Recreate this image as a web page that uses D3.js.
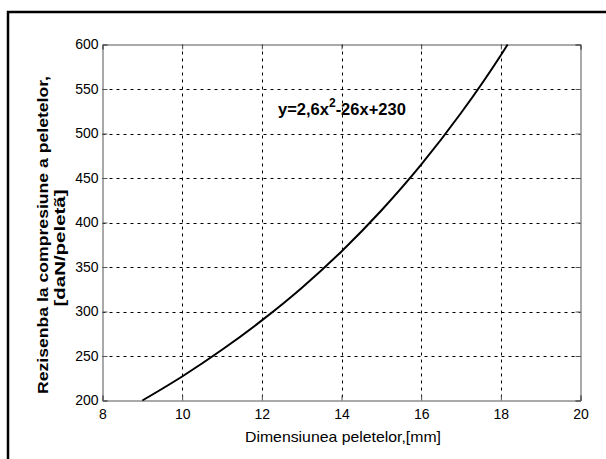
<!DOCTYPE html>
<html><head><meta charset="utf-8">
<script src="https://cdn.jsdelivr.net/npm/d3@7"></script>
<style>body{margin:0;background:#fff}svg{display:block}text{font-family:"Liberation Sans",Arial,sans-serif}</style>
</head><body><svg id="c" width="606" height="459"></svg>
<script>
const xTicks = [8, 10, 12, 14, 16, 18, 20];
const yTicks = [200, 250, 300, 350, 400, 450, 500, 550, 600];
const xVals = [9, 10, 11, 12, 13, 14, 15, 16, 17, 18, 18.17];
const yVals = [200, 227, 257, 290, 326.5, 367.5, 413.5, 465, 523, 588, 600];
const yLabel1 = "Rezisenba la compresiune a peletelor,";
const yLabel2 = "[daN/peletã]";
const xLabel = "Dimensiunea peletelor,[mm]";

const svg = d3.select("#c");
const L = 102.5, R = 580.5, T = 44.5, B = 400.5;
const x = d3.scaleLinear().domain([8, 20]).range([L, R]);
const y = d3.scaleLinear().domain([200, 600]).range([B, T]);

svg.append("rect").attr("x", 8).attr("y", 12).attr("width", 620).attr("height", 470)
  .attr("fill", "none").attr("stroke", "#000").attr("stroke-width", 2.5);

const g = svg.append("g");
g.selectAll(".gx").data(xTicks.slice(1, -1)).join("line")
  .attr("x1", d => Math.round(x(d)) + 0.5).attr("x2", d => Math.round(x(d)) + 0.5)
  .attr("y1", T).attr("y2", B)
  .attr("stroke", "#000").attr("stroke-dasharray", "3,4").attr("stroke-width", 1);
g.selectAll(".gy").data(yTicks.slice(1, -1)).join("line")
  .attr("y1", d => Math.round(y(d)) + 0.5).attr("y2", d => Math.round(y(d)) + 0.5)
  .attr("x1", L).attr("x2", R)
  .attr("stroke", "#000").attr("stroke-dasharray", "3,4").attr("stroke-width", 1);

const ax = d3.axisBottom(x).tickValues(xTicks).tickSize(-5).tickPadding(9);
const ay = d3.axisLeft(y).tickValues(yTicks).tickSize(-5).tickPadding(4);
svg.append("g").attr("transform", `translate(0,${B})`).call(ax);
svg.append("g").attr("transform", `translate(${L},0)`).call(ay);
svg.append("g").attr("transform", `translate(0,${T})`).call(d3.axisTop(x).tickValues(xTicks).tickSize(-5).tickFormat(""));
svg.append("g").attr("transform", `translate(${R},0)`).call(d3.axisRight(y).tickValues(yTicks).tickSize(-5).tickFormat(""));
svg.selectAll(".domain").attr("stroke", "#555");
svg.selectAll(".tick line").attr("stroke", "#555");
svg.selectAll(".tick text").attr("font-size", 14).attr("fill", "#000")
  .attr("font-family", "'Liberation Sans',Arial,sans-serif");

const line = d3.line().x((d, i) => x(xVals[i])).y((d, i) => y(yVals[i])).curve(d3.curveMonotoneX);
svg.append("path").datum(yVals).attr("d", line).attr("fill", "none")
  .attr("stroke", "#000").attr("stroke-width", 2);

const ann = svg.append("text").attr("x", 278).attr("y", 115).attr("font-size", 16.5).attr("font-weight", "bold");
ann.append("tspan").text("y=2,6x");
ann.append("tspan").attr("dy", -8).attr("font-size", 12).text("2");
ann.append("tspan").attr("dy", 8).text("-26x+230");

svg.append("text").attr("x", 343).attr("y", 442).attr("text-anchor", "middle")
  .attr("font-size", 15).attr("textLength", 196).attr("lengthAdjust", "spacingAndGlyphs").text(xLabel);
const yl = svg.append("text").attr("transform", "translate(48,235) rotate(-90)")
  .attr("text-anchor", "middle").attr("font-size", 14).attr("font-weight", "bold");
yl.append("tspan").attr("x", 0).attr("y", 0).attr("textLength", 318).attr("lengthAdjust", "spacingAndGlyphs").text(yLabel1);
yl.append("tspan").attr("x", 0).attr("y", 17).attr("dx", -13).attr("textLength", 117).attr("lengthAdjust", "spacingAndGlyphs").text(yLabel2);
</script></body></html>
